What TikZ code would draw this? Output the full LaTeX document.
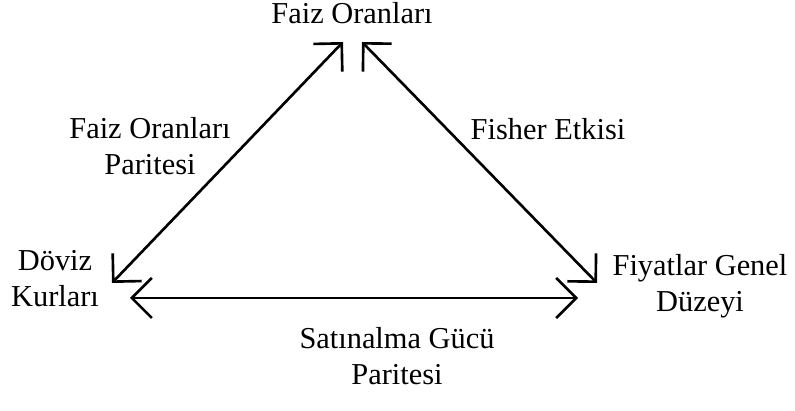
\documentclass[tikz,border=0pt]{standalone}
\usepackage{fontspec}
\setmainfont{Liberation Serif}
\usetikzlibrary{arrows.meta,positioning}
\tikzset{
  lbl/.style={inner sep=0pt, align=center, anchor=base, font=\fontsize{17.3}{20.5}\selectfont},
  link/.style={{Straight Barb[length=4mm,width=8mm]}-{Straight Barb[length=4mm,width=8mm]}, line width=1.5pt}
}
\begin{document}
\begin{tikzpicture}[x=0.02cm, y=-0.02cm]
  \useasboundingbox (0,0) rectangle (795,411);
  % corners
  \node[lbl] (faiz)  at (352,24)  {Faiz Oranları};
  \node[lbl] (doviz) at (55,307)  {Döviz\\Kurları};
  \node[lbl] (fiyat) at (700,312) {Fiyatlar Genel\\Düzeyi};
  % edge labels
  \node[lbl] (fop)    at (150,175) {Faiz Oranları\\Paritesi};
  \node[lbl] (fisher) at (548,140) {Fisher Etkisi};
  \node[lbl] (sgp)    at (397,385) {Satınalma Gücü\\Paritesi};
  % arrow ends
  \coordinate (faiz-l)  at (343,42);
  \coordinate (faiz-r)  at (362,42);
  \coordinate (doviz-u) at (112,283);
  \coordinate (doviz-r) at (130,298);
  \coordinate (fiyat-u) at (597,283);
  \coordinate (fiyat-l) at (578,298);
  \draw[link] (doviz-u) -- (faiz-l);
  \draw[link] (faiz-r) -- (fiyat-u);
  \draw[link] (doviz-r) -- (fiyat-l);
\end{tikzpicture}
\end{document}
